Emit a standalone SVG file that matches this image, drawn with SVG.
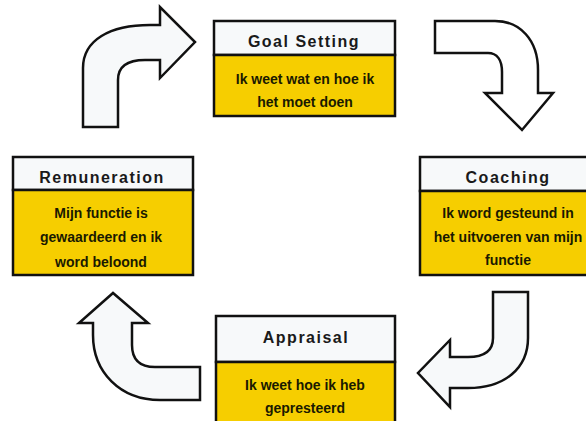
<svg xmlns="http://www.w3.org/2000/svg" width="586" height="421" viewBox="0 0 586 421">
<style>
.title{fill:#F7F9FA;stroke:#111;stroke-width:2.5}
.body{fill:#F6CE00;stroke:#111;stroke-width:2.5}
.arrow{fill:#F7F9FA;stroke:#111;stroke-width:2.5;stroke-linejoin:miter}
.tt{font-family:"Liberation Sans",Arial,sans-serif;font-weight:bold;font-size:16px;letter-spacing:1.5px;fill:#1a1a1a;text-anchor:middle}
.bt{font-family:"Liberation Sans",Arial,sans-serif;font-weight:bold;font-size:14px;fill:#1a1a00;text-anchor:middle}
</style>
<rect width="586" height="421" fill="#fff"/>
<g id="connectors">
<path class="arrow" d="M83,127 L83,68 C83,40 110,25 150,25 L160,25 L160,7 L195,42 L160,78 L160,60 L145,60 C128,60 118,66 118,80 L118,127 Z"/>
<path class="arrow" style="fill:#fff" d="M435,21 L495,21 C520,21 538,40 538,70 L538,93 L553,93 L522,130 L485,93 L502,93 L502,72 C502,60 497,53 488,53 L435,53 Z"/>
<path class="arrow" d="M493,292 L528,292 L528,338 C528,368 505,388 468,388 L450,388 L450,407 L418,373 L450,340 L450,357 L468,357 C485,357 493,350 493,338 Z"/>
<path class="arrow" d="M200,367 L200,400 L160,400 C120,400 93,372 93,335 L93,323 L79,323 L113,293 L148,323 L132,323 L132,345 C132,360 140,367 155,367 Z"/>
</g>
<g id="goal-setting">
<rect class="title" x="214" y="21" width="181" height="34"/>
<rect class="body" x="214" y="55" width="181" height="61"/>
<text class="tt" x="304" y="47">Goal Setting</text>
<text class="bt" x="305" y="84">Ik weet wat en hoe ik</text>
<text class="bt" x="305" y="107">het moet doen</text>
</g>
<g id="remuneration">
<rect class="title" x="13" y="157" width="180" height="33"/>
<rect class="body" x="13" y="190" width="180" height="85"/>
<text class="tt" x="102" y="183">Remuneration</text>
<text class="bt" x="101" y="218">Mijn functie is</text>
<text class="bt" x="101" y="242">gewaardeerd en ik</text>
<text class="bt" x="101" y="267">word beloond</text>
</g>
<g id="coaching">
<rect class="title" x="420" y="157" width="178" height="34"/>
<rect class="body" x="420" y="191" width="178" height="84"/>
<text class="tt" x="508" y="183">Coaching</text>
<text class="bt" x="508" y="218">Ik word gesteund in</text>
<text class="bt" x="508" y="242">het uitvoeren van mijn</text>
<text class="bt" x="508" y="265">functie</text>
</g>
<g id="appraisal">
<rect class="title" x="216" y="316" width="179" height="46"/>
<rect class="body" x="216" y="362" width="179" height="70"/>
<text class="tt" x="306" y="343">Appraisal</text>
<text class="bt" x="305" y="390">Ik weet hoe ik heb</text>
<text class="bt" x="305" y="413">gepresteerd</text>
</g>
</svg>
